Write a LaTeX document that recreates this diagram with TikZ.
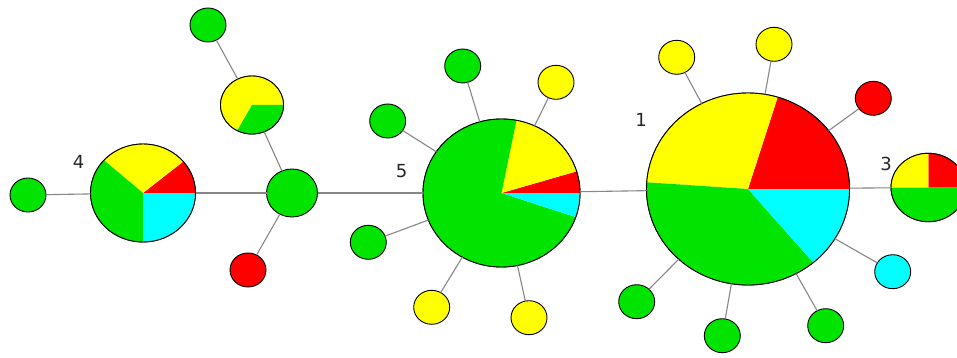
\documentclass[tikz,border=0pt]{standalone}
\usepackage{fontspec}
\setmainfont{DejaVu Sans}
\usetikzlibrary{shapes.geometric}
\definecolor{hgreen}{RGB}{0,228,0}
\definecolor{hyellow}{RGB}{255,255,0}
\definecolor{hred}{RGB}{255,0,0}
\definecolor{hcyan}{RGB}{0,255,255}
\definecolor{hline}{RGB}{135,135,135}
\newcommand\pieseg[6]{% node, rx, ry, start, end, colour
  \fill[#6] (#1.center) -- ++(#4:#2 and #3) arc[start angle=#4, end angle=#5, x radius=#2, y radius=#3] -- cycle;}
\tikzset{
  hap/.style={ellipse, draw=black, line width=0.9pt, inner sep=0pt, outer sep=0pt},
  small/.style={hap, minimum width=36pt, minimum height=34pt},
  link/.style={draw=hline, line width=1.1pt},
  lbl/.style={font=\fontsize{18}{18}\selectfont, text=black!85, inner sep=0pt}
}
\begin{document}
\begin{tikzpicture}[x=1pt, y=-1pt]
\useasboundingbox (0,0) rectangle (957,358);
\fill[white] (0,0) rectangle (957,358);
\clip (0,0) rectangle (957,358);

% big pie nodes
\node[hap, minimum width=105pt, minimum height=98pt] (n4) at (143,193) {};
\node[hap, minimum width=63pt, minimum height=58pt] (n6) at (252,105) {};
\node[hap, fill=hgreen, minimum width=51pt, minimum height=48pt] (hub) at (292,193) {};
\node[hap, minimum width=157pt, minimum height=148pt] (n5) at (501.5,193) {};
\node[hap, minimum width=203pt, minimum height=192pt] (n1) at (748,189) {};
\node[hap, minimum width=74.6pt, minimum height=68.4pt] (n3) at (928.3,187.5) {};

% small nodes
\node[small, fill=hgreen] (g4) at (28,195) {};
\node[small, fill=hgreen] (gtop) at (208,25) {};
\node[small, fill=hred] (rhub) at (248,270) {};
\node[small, fill=hgreen] (g5a) at (462.7,66) {};
\node[small, fill=hyellow] (y5a) at (556,82.3) {};
\node[small, fill=hgreen] (g5b) at (387.7,121) {};
\node[small, fill=hgreen] (g5c) at (368.3,242.3) {};
\node[small, fill=hyellow] (y5b) at (431.7,307.3) {};
\node[small, fill=hyellow] (y5c) at (529,317.7) {};
\node[small, fill=hyellow] (y1a) at (676.7,57.3) {};
\node[small, fill=hyellow] (y1b) at (774,44.3) {};
\node[small, fill=hred] (r1) at (873.3,98.3) {};
\node[small, fill=hcyan] (c1) at (892.7,271.7) {};
\node[small, fill=hgreen] (g1a) at (825.7,325.7) {};
\node[small, fill=hgreen] (g1b) at (722.3,335.7) {};
\node[small, fill=hgreen] (g1c) at (636.7,301.7) {};

% pies
\pieseg{n4}{52.5pt}{49pt}{0}{40}{hred}
\pieseg{n4}{52.5pt}{49pt}{40}{138}{hyellow}
\pieseg{n4}{52.5pt}{49pt}{138}{270}{hgreen}
\pieseg{n4}{52.5pt}{49pt}{270}{360}{hcyan}
\draw[black, line width=0.9pt] (n4) ellipse[x radius=52.5pt, y radius=49pt];

\pieseg{n6}{31.5pt}{29pt}{0}{242}{hyellow}
\pieseg{n6}{31.5pt}{29pt}{242}{360}{hgreen}
\draw[black, line width=0.9pt] (n6) ellipse[x radius=31.5pt, y radius=29pt];

\pieseg{n5}{78.5pt}{74pt}{0}{17}{hred}
\pieseg{n5}{78.5pt}{74pt}{17}{79}{hyellow}
\pieseg{n5}{78.5pt}{74pt}{79}{341}{hgreen}
\pieseg{n5}{78.5pt}{74pt}{341}{360}{hcyan}
\draw[black, line width=0.9pt] (n5) ellipse[x radius=78.5pt, y radius=74pt];

\pieseg{n1}{101.5pt}{96pt}{0}{73}{hred}
\pieseg{n1}{101.5pt}{96pt}{73}{176}{hyellow}
\pieseg{n1}{101.5pt}{96pt}{176}{310}{hgreen}
\pieseg{n1}{101.5pt}{96pt}{310}{360}{hcyan}
\draw[black, line width=0.9pt] (n1) ellipse[x radius=101.5pt, y radius=96pt];

\pieseg{n3}{37.3pt}{34.2pt}{0}{90}{hred}
\pieseg{n3}{37.3pt}{34.2pt}{90}{180}{hyellow}
\pieseg{n3}{37.3pt}{34.2pt}{180}{360}{hgreen}
\draw[black, line width=0.9pt] (n3) ellipse[x radius=37.3pt, y radius=34.2pt];

% connectors
\path[link] (g4) -- (n4);
\path[link] (n4) -- (hub);
\path[link] (hub) -- (n6);
\path[link] (n6) -- (gtop);
\path[link] (hub) -- (rhub);
\path[link] (hub) -- (n5);
\path[link] (n5) -- (n1);
\path[link] (n1) -- (n3);
\path[link] (n5) -- (g5a);
\path[link] (n5) -- (y5a);
\path[link] (n5) -- (g5b);
\path[link] (n5) -- (g5c);
\path[link] (n5) -- (y5b);
\path[link] (n5) -- (y5c);
\path[link] (n1) -- (y1a);
\path[link] (n1) -- (y1b);
\path[link] (n1) -- (r1);
\path[link] (n1) -- (c1);
\path[link] (n1) -- (g1a);
\path[link] (n1) -- (g1b);
\path[link] (n1) -- (g1c);

% labels
\node[lbl] (l4) at (78.5,162) {4};
\node[lbl] (l5) at (401.5,171) {5};
\node[lbl] (l1) at (641,120) {1};
\node[lbl] (l3) at (886,164) {3};
\end{tikzpicture}
\end{document}
